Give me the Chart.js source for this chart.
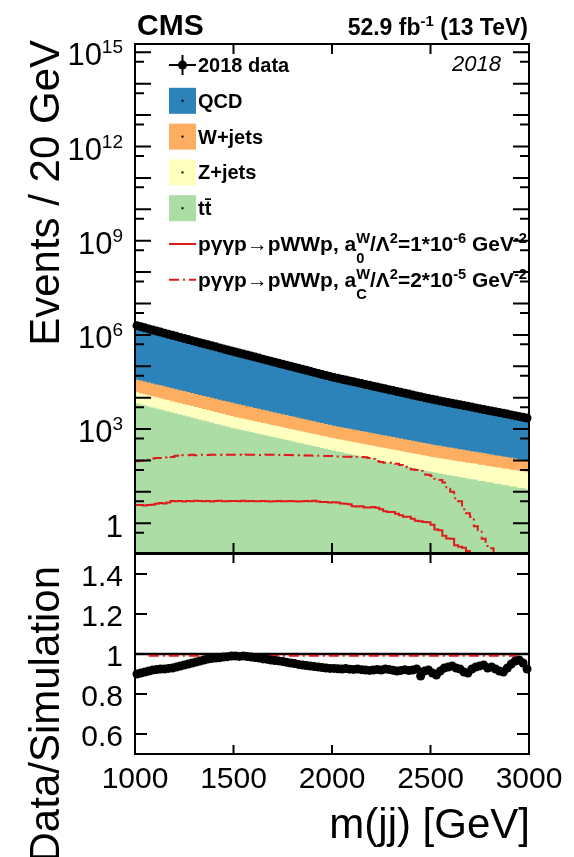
<!DOCTYPE html>
<html>
<head>
<meta charset="utf-8">
<script src="https://cdn.jsdelivr.net/npm/chart.js@4.4.1/dist/chart.umd.min.js"></script>
<style>
  html, body { margin: 0; padding: 0; background: #fff; }
  #wrap { position: relative; width: 574px; height: 857px; overflow: hidden; }
  #wrap canvas { position: absolute; left: 0; top: 0; }
</style>
</head>
<body>
<div id="wrap">
  <canvas id="mainPad" width="574" height="857"></canvas>
  <canvas id="ratioPad" width="574" height="857"></canvas>
</div>
<script>
// ---- binning: 100 bins of 20 GeV in m(jj) ----
const binStart = 1000;
const binWidth = 20;

// ---- 2018 data, events per bin ----
const dataCounts = [
  1.963e6, 1.816e6, 1.679e6, 1.552e6, 1.435e6, 1.327e6, 1.227e6, 1.135e6, 1.050e6, 9.70e5,
  8.97e5, 8.30e5, 7.67e5, 7.10e5, 6.56e5, 6.08e5, 5.63e5, 5.22e5, 4.84e5, 4.48e5,
  4.155e5, 3.85e5, 3.57e5, 3.31e5, 3.07e5, 2.84e5, 2.64e5, 2.45e5, 2.28e5, 2.12e5,
  1.966e5, 1.823e5, 1.690e5, 1.567e5, 1.453e5, 1.348e5, 1.251e5, 1.161e5, 1.078e5, 1.000e5,
  9.29e4, 8.62e4, 8.00e4, 7.42e4, 6.89e4, 6.39e4, 5.93e4, 5.51e4, 5.11e4, 4.75e4,
  4.43e4, 4.15e4, 3.89e4, 3.65e4, 3.42e4, 3.21e4, 3.01e4, 2.82e4, 2.64e4, 2.48e4,
  2.32e4, 2.18e4, 2.04e4, 1.91e4, 1.79e4, 1.68e4, 1.58e4, 1.48e4, 1.39e4, 1.30e4,
  1.22e4, 1.14e4, 1.07e4, 1.00e4, 9420, 8860, 8370, 7910, 7470, 7050,
  6660, 6290, 5940, 5610, 5300, 5010, 4730, 4470, 4220, 3990,
  3760, 3550, 3360, 3170, 3000, 2830, 2670, 2520, 2380, 2250
];

// ---- simulated backgrounds, events per bin ----
const qcdCounts = [
  2.144e6, 1.972e6, 1.812e6, 1.666e6, 1.531e6, 1.413e6, 1.302e6, 1.204e6, 1.110e6, 1.023e6,
  9.408e5, 8.656e5, 7.954e5, 7.323e5, 6.728e5, 6.202e5, 5.712e5, 5.267e5, 4.858e5, 4.482e5,
  4.148e5, 3.835e5, 3.544e5, 3.279e5, 3.031e5, 2.804e5, 2.611e5, 2.418e5, 2.256e5, 2.102e5,
  1.955e5, 1.816e5, 1.691e5, 1.571e5, 1.462e5, 1.359e5, 1.264e5, 1.177e5, 1.097e5, 1.021e5,
  9.513e4, 8.863e4, 8.251e4, 7.676e4, 7.141e4, 6.643e4, 6.176e4, 5.757e4, 5.350e4, 4.983e4,
  4.646e4, 4.361e4, 4.090e4, 3.829e4, 3.598e4, 3.381e4, 3.162e4, 2.972e4, 2.788e4, 2.624e4,
  2.448e4, 2.294e4, 2.151e4, 2.003e4, 1.882e4, 1.774e4, 1.674e4, 1.562e4, 1.461e4, 1.373e4,
  1.284e4, 1.192e4, 1.164e4, 1.057e4, 9900, 9467, 9045, 8352, 7753, 7274,
  6832, 6522, 6193, 5947, 5648, 5218, 4870, 4575, 4295, 4127,
  3866, 3690, 3531, 3350, 3098, 2857, 2651, 2488, 2387, 2332
];
const wjetsCounts = [
  22610, 21118, 19724, 18422, 17206, 16071, 15010, 14019, 13094, 12230,
  11423, 10669, 9965, 9307, 8693, 8119, 7583, 7083, 6615, 6179,
  5771, 5390, 5034, 4702, 4392, 4106, 3840, 3590, 3357, 3139,
  2936, 2745, 2567, 2400, 2245, 2099, 1963, 1835, 1716, 1605,
  1501, 1403, 1312, 1227, 1147, 1073, 1003, 938, 877, 820,
  771, 729, 690, 653, 618, 585, 553, 524, 495, 469,
  443, 420, 397, 376, 355, 336, 318, 301, 285, 270,
  255, 241, 228, 216, 204, 194, 184.5, 175.4, 166.7, 158.4,
  150.6, 143.1, 136.0, 129.3, 122.9, 116.8, 111.0, 105.5, 100.3, 95.3,
  90.6, 86.1, 81.8, 77.8, 73.9, 70.3, 66.8, 63.5, 60.3, 57.3
];
const zjetsCounts = [
  8420, 7834, 7289, 6782, 6310, 5871, 5462, 5082, 4728, 4399,
  4093, 3808, 3543, 3296, 3067, 2853, 2655, 2470, 2298, 2138,
  1989, 1851, 1722, 1602, 1491, 1395, 1312, 1234, 1161, 1092,
  1027, 966, 909, 855, 804, 756, 711, 669, 629, 592,
  557, 524, 493, 463, 436, 410, 386, 363, 341, 321,
  303, 288.5, 274, 261, 248, 236, 224, 213, 203, 193,
  183, 174, 166, 157.5, 150, 142, 135, 129, 122, 116,
  111, 105, 100, 95.1, 90.4, 86.2, 82.5, 79.0, 75.7, 72.5,
  69.4, 66.4, 63.6, 60.9, 58.3, 55.8, 53.5, 51.2, 49.0, 46.9,
  44.9, 43.0, 41.2, 39.5, 37.8, 36.2, 34.6, 33.2, 31.8, 30.4
];
const ttbarCounts = [
  6520, 6050, 5620, 5220, 4850, 4510, 4190, 3890, 3610, 3360,
  3120, 2900, 2690, 2500, 2320, 2160, 2000, 1860, 1730, 1610,
  1490, 1390, 1290, 1200, 1110, 1040, 973, 912, 855, 802,
  752, 705, 661, 619, 581, 545, 511, 479, 449, 421,
  394, 370, 347, 325, 305, 286, 268, 251, 236, 221,
  207, 194, 182, 171, 161, 151, 141, 133, 125, 117,
  110, 103, 96.6, 90.7, 85.1, 79.9, 74.9, 70.3, 66.0, 61.9,
  58.1, 54.5, 51.2, 48.0, 45.1, 42.6, 40.4, 38.4, 36.4, 34.6,
  32.9, 31.2, 29.6, 28.2, 26.7, 25.4, 24.8, 22.1, 22.3, 20.1,
  19.9, 18.2, 18.0, 16.5, 16.4, 14.9, 14.8, 13.4, 13.3, 12.1
];

// ---- exclusive pγγp → pWWp signals (anomalous couplings) ----
const signalA0 = [
  3.8, 3.8, 3.7, 3.8, 3.9, 4.2, 4.4, 4.3, 4.6, 5.1,
  5.0, 5.1, 4.9, 5.1, 5.0, 5.2, 5.1, 5.0, 5.1, 4.9,
  5.1, 5.2, 5.0, 5.0, 5.1, 5.1, 5.0, 5.2, 5.0, 5.1,
  5.0, 5.0, 5.1, 5.0, 4.9, 5.0, 5.1, 5.0, 5.0, 5.1,
  5.0, 4.9, 5.0, 5.1, 5.0, 5.2, 4.9, 4.8, 4.8, 4.6,
  4.7, 4.6, 4.3, 4.2, 4.0, 3.5, 3.4, 3.5, 3.2, 3.2,
  3.3, 3.1, 2.8, 2.4, 2.3, 2.3, 2.0, 1.8, 1.6, 1.6,
  1.4, 1.2, 1.15, 1.1, 1.07, 0.89, 0.63, 0.60, 0.40, 0.33,
  0.32, 0.20, 0.18, 0.166, 0.13, 0.01, 0.01, 0.01, 0.01, 0.01,
  0.01, 0.01, 0.01, 0.01, 0.01, 0.01, 0.01, 0.01, 0.01, 0.01
];
const signalAC = [
  95, 98, 98, 105, 115, 120, 120, 126, 132, 129,
  141, 138, 148, 148, 151, 148, 151, 152, 150, 151,
  153, 151, 150, 152, 151, 151, 153, 150, 151, 152,
  151, 150, 151, 152, 151, 153, 150, 151, 150, 149,
  148, 147, 146, 145, 143, 142, 141, 140, 139, 138,
  138, 135, 132, 132, 132, 129, 132, 129, 126, 120,
  112, 95, 89, 85, 85, 83, 79, 72, 63, 60,
  52, 50, 46, 36, 35, 32, 26, 24, 20, 12.6,
  10, 6.3, 5.0, 2.8, 2.1, 1.6, 0.8, 0.6, 0.32, 0.19,
  0.16, 0.01, 0.01, 0.01, 0.01, 0.01, 0.01, 0.01, 0.01, 0.01
];

// ---- axes ----
const massTicks = [1000, 1500, 2000, 2500, 3000];
const eventsLabelExponents = [0, 3, 6, 9, 12, 15];
const ratioTicks = [0.6, 0.8, 1.0, 1.2, 1.4];
const ratioTickLabels = ['0.6', '0.8', '1', '1.2', '1.4'];
const unityLine = [1, 1];
const signalRatioLine = [0.991, 0.991];
const signalRatioRange = [1070, 2940];

// ---- colours ----
const colQCD = '#2b83ba';
const colW = '#fdae61';
const colZ = '#ffffbf';
const colTT = '#abdda4';
const colSig = '#e0191c';

const FONT = "'Liberation Sans', Arial, Helvetica, sans-serif";
const font = (size, weight = 'normal', style = 'normal') => `${style} ${weight} ${size}px ${FONT}`;

// ---- derived histograms ----
const nBins = dataCounts.length;
const lowEdges = dataCounts.map((_, i) => binStart + i * binWidth);
const centers = lowEdges.map(e => e + binWidth / 2);
const upperEdge = binStart + nBins * binWidth;

const cumTT = ttbarCounts.slice();
const cumZ = cumTT.map((v, i) => v + zjetsCounts[i]);
const cumW = cumZ.map((v, i) => v + wjetsCounts[i]);
const cumQCD = cumW.map((v, i) => v + qcdCounts[i]);
const ratioValues = dataCounts.map((d, i) => d / cumQCD[i]);

// step histogram: one point per low edge, plus the closing edge
function histPoints(values) {
  const pts = values.map((v, i) => ({ x: lowEdges[i], y: v }));
  pts.push({ x: upperEdge, y: values[values.length - 1] });
  return pts;
}
function stackLayer(values, color, order) {
  return {
    data: histPoints(values), stepped: true, fill: 'start',
    backgroundColor: color, borderColor: 'rgba(0,0,0,0)', borderWidth: 1,
    pointRadius: 0, order
  };
}
function signalLine(values, dash) {
  return {
    data: histPoints(values), stepped: true, fill: false,
    borderColor: colSig, borderWidth: 2, borderDash: dash,
    pointRadius: 0, order: 1
  };
}

// ---- rich text (super/subscripts) ----
function runWidth(ctx, r) {
  ctx.font = r.font;
  if (r.stack) return Math.max(ctx.measureText(r.stack[0]).width, ctx.measureText(r.stack[1]).width);
  return ctx.measureText(r.t).width;
}
function drawRuns(ctx, runs, x, y, align, targetWidth) {
  const w = runs.reduce((s, r) => s + runWidth(ctx, r), 0);
  const sx = targetWidth ? targetWidth / w : 1;
  ctx.save();
  ctx.textAlign = 'left';
  ctx.textBaseline = 'alphabetic';
  ctx.translate(align === 'right' ? x - w * sx : x, y);
  ctx.scale(sx, 1);
  let cx = 0;
  for (const r of runs) {
    const rw = runWidth(ctx, r);
    ctx.font = r.font;
    if (r.stack) {
      ctx.fillText(r.stack[0], cx, r.supDy);
      ctx.fillText(r.stack[1], cx, r.subDy);
    } else {
      ctx.fillText(r.t, cx, r.dy || 0);
    }
    cx += rw;
  }
  ctx.restore();
}
function drawVerticalTitle(ctx, text, x, yEnd, size) {
  ctx.save();
  ctx.translate(x, yEnd);
  ctx.rotate(-Math.PI / 2);
  ctx.font = font(size);
  ctx.textAlign = 'right';
  ctx.textBaseline = 'alphabetic';
  ctx.fillText(text, 0, 0);
  ctx.restore();
}

// ---- decorations for the upper pad ----
const mainDecor = {
  id: 'mainDecor',
  afterDraw(chart) {
    const { ctx, chartArea: a, scales: { x, y } } = chart;
    ctx.save();
    ctx.strokeStyle = '#000';
    ctx.fillStyle = '#000';
    ctx.lineWidth = 2;

    // tick marks, inside the frame on all four sides
    ctx.beginPath();
    for (let e = 0; e <= 15; e++) {
      const major = y.getPixelForValue(Math.pow(10, e));
      const minor = y.getPixelForValue(5 * Math.pow(10, e - 1));
      ctx.moveTo(a.left, major); ctx.lineTo(a.left + 16, major);
      ctx.moveTo(a.right, major); ctx.lineTo(a.right - 16, major);
      ctx.moveTo(a.left, minor); ctx.lineTo(a.left + 9, minor);
      ctx.moveTo(a.right, minor); ctx.lineTo(a.right - 9, minor);
    }
    for (const m of massTicks) {
      const px = x.getPixelForValue(m);
      ctx.moveTo(px, a.top); ctx.lineTo(px, a.top + 10);
      ctx.moveTo(px, a.bottom); ctx.lineTo(px, a.bottom - 10);
    }
    ctx.stroke();
    ctx.strokeRect(a.left, a.top, a.right - a.left, a.bottom - a.top);

    // y tick labels 1, 10^3, ...
    for (const e of eventsLabelExponents) {
      const py = y.getPixelForValue(Math.pow(10, e));
      if (e === 0) {
        drawRuns(ctx, [{ t: '1', font: font(31) }], a.left - 12, py + 14, 'right');
      } else {
        drawRuns(ctx, [
          { t: '10', font: font(31), dy: 13 },
          { t: String(e), font: font(19), dy: 1 }
        ], a.left - 12, py, 'right');
      }
    }

    drawVerticalTitle(ctx, 'Events / 20 GeV', 59, 40, 42);

    // header
    drawRuns(ctx, [{ t: 'CMS', font: font(30, 'bold') }], a.left + 2, 35, 'left');
    drawRuns(ctx, [
      { t: '52.9 fb', font: font(23, 'bold') },
      { t: '-1', font: font(15, 'bold'), dy: -9 },
      { t: ' (13 TeV)', font: font(23, 'bold') }
    ], 528, 35, 'right');
    drawRuns(ctx, [{ t: '2018', font: font(22, 'normal', 'italic') }], 501, 71, 'right');

    // legend
    const lx0 = 169, lx1 = 196, tx = 198;
    const rowY = k => 65 + k * 35.8;
    const b20 = font(20, 'bold'), b14 = font(14, 'bold');
    // data entry
    let cy = rowY(0);
    ctx.beginPath();
    ctx.moveTo(lx0, cy); ctx.lineTo(lx1, cy);
    ctx.moveTo((lx0 + lx1) / 2, cy - 10); ctx.lineTo((lx0 + lx1) / 2, cy + 10);
    ctx.stroke();
    ctx.beginPath(); ctx.arc((lx0 + lx1) / 2, cy, 4.5, 0, 2 * Math.PI); ctx.fill();
    drawRuns(ctx, [{ t: '2018 data', font: b20 }], tx, cy + 7, 'left');
    // background boxes
    const boxes = [[colQCD, 'QCD'], [colW, 'W+jets'], [colZ, 'Z+jets'], [colTT, 'tt\u0304']];
    boxes.forEach(([c, label], k) => {
      cy = rowY(k + 1);
      ctx.fillStyle = c;
      ctx.fillRect(lx0, cy - 13, lx1 - lx0, 26);
      ctx.fillStyle = '#000';
      ctx.fillRect((lx0 + lx1) / 2 - 1, cy - 1, 2, 2);
      drawRuns(ctx, [{ t: label, font: b20 }], tx, cy + 7, 'left');
    });
    // signal entries
    const sigLabels = [
      { sub: '0', value: '1*10', exp: '-6', dash: [] },
      { sub: 'C', value: '2*10', exp: '-5', dash: [10, 4, 2, 4] }
    ];
    sigLabels.forEach((s, k) => {
      cy = rowY(k + 5);
      ctx.save();
      ctx.strokeStyle = colSig; ctx.lineWidth = 2; ctx.setLineDash(s.dash);
      ctx.beginPath(); ctx.moveTo(lx0, cy); ctx.lineTo(lx1, cy); ctx.stroke();
      ctx.restore();
      drawRuns(ctx, [
        { t: 'p\u03b3\u03b3p\u2192pWWp, a', font: b20 },
        { stack: ['W', s.sub], font: b14, supDy: -8, subDy: 12 },
        { t: '/\u039b', font: b20 },
        { t: '2', font: b14, dy: -8 },
        { t: '=' + s.value, font: b20 },
        { t: s.exp, font: b14, dy: -8 },
        { t: ' GeV', font: b20 },
        { t: '-2', font: b14, dy: -8 }
      ], tx, cy + 7, 'left', 329);
    });
    ctx.restore();
  }
};

// ---- decorations for the ratio pad ----
const ratioDecor = {
  id: 'ratioDecor',
  afterDraw(chart) {
    const { ctx, chartArea: a, scales: { x, y } } = chart;
    ctx.save();
    ctx.strokeStyle = '#000';
    ctx.fillStyle = '#000';
    ctx.lineWidth = 2;
    ctx.beginPath();
    for (const r of ratioTicks) {
      const py = y.getPixelForValue(r);
      ctx.moveTo(a.left, py); ctx.lineTo(a.left + 12, py);
      ctx.moveTo(a.right, py); ctx.lineTo(a.right - 12, py);
    }
    for (const m of massTicks) {
      const px = x.getPixelForValue(m);
      ctx.moveTo(px, a.top); ctx.lineTo(px, a.top + 9);
      ctx.moveTo(px, a.bottom); ctx.lineTo(px, a.bottom - 9);
    }
    ctx.stroke();
    ctx.strokeRect(a.left, a.top, a.right - a.left, a.bottom - a.top);

    ratioTicks.forEach((r, k) => {
      drawRuns(ctx, [{ t: ratioTickLabels[k], font: font(30) }], a.left - 12, y.getPixelForValue(r) + 11.5, 'right');
    });
    ctx.font = font(30);
    ctx.textAlign = 'center';
    ctx.textBaseline = 'alphabetic';
    for (const m of massTicks) ctx.fillText(String(m), x.getPixelForValue(m), a.bottom + 34);
    ctx.font = font(42);
    ctx.textAlign = 'right';
    ctx.fillText('m(jj) [GeV]', a.right + 1, a.bottom + 84);
    drawVerticalTitle(ctx, 'Data/Simulation', 59, 566, 42);
    ctx.restore();
  }
};

Chart.defaults.font.family = FONT;

new Chart(document.getElementById('mainPad'), {
  type: 'line',
  data: {
    datasets: [
      {
        data: centers.map((c, i) => ({ x: c, y: dataCounts[i] })),
        showLine: false, pointRadius: 4.5, pointHoverRadius: 4.5,
        pointBackgroundColor: '#000', pointBorderWidth: 0, clip: false, order: 0
      },
      signalLine(signalA0, []),
      signalLine(signalAC, [10, 4, 2, 4]),
      stackLayer(cumTT, colTT, 2),
      stackLayer(cumZ, colZ, 3),
      stackLayer(cumW, colW, 4),
      stackLayer(cumQCD, colQCD, 5)
    ]
  },
  options: {
    responsive: false, animation: false, devicePixelRatio: 1,
    layout: { padding: { left: 135, right: 45, top: 44, bottom: 304 } },
    plugins: { legend: { display: false }, tooltip: { enabled: false } },
    scales: {
      x: { type: 'linear', min: 1000, max: 3000, display: false },
      y: { type: 'logarithmic', min: 0.113, max: 1.84e15, bounds: 'data', display: false }
    }
  },
  plugins: [mainDecor]
});

new Chart(document.getElementById('ratioPad'), {
  type: 'line',
  data: {
    datasets: [
      {
        data: centers.map((c, i) => ({ x: c, y: ratioValues[i] })),
        showLine: false, pointRadius: 4.5, pointHoverRadius: 4.5,
        pointBackgroundColor: '#000', pointBorderWidth: 0, clip: false, order: 0
      },
      {
        data: [{ x: binStart, y: unityLine[0] }, { x: upperEdge, y: unityLine[1] }],
        borderColor: '#000', borderWidth: 2.5, pointRadius: 0, order: 2
      },
      {
        data: [{ x: signalRatioRange[0], y: signalRatioLine[0] }, { x: signalRatioRange[1], y: signalRatioLine[1] }],
        borderColor: colSig, borderWidth: 2, borderDash: [10, 4, 2, 4], pointRadius: 0, order: 1
      }
    ]
  },
  options: {
    responsive: false, animation: false, devicePixelRatio: 1,
    layout: { padding: { left: 135, right: 45, top: 554, bottom: 103 } },
    plugins: { legend: { display: false }, tooltip: { enabled: false } },
    scales: {
      x: { type: 'linear', min: 1000, max: 3000, display: false },
      y: { type: 'linear', min: 0.5, max: 1.5, display: false }
    }
  },
  plugins: [ratioDecor]
});
</script>
</body>
</html>
